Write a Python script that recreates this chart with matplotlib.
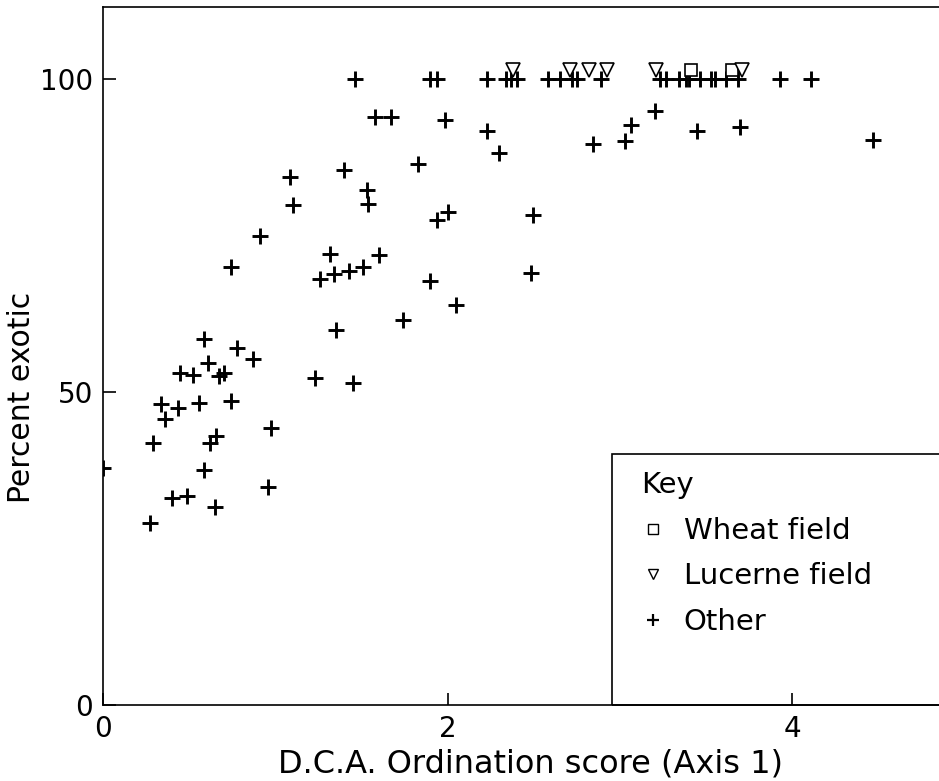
import matplotlib
matplotlib.use("Agg")
import matplotlib.pyplot as plt
from matplotlib.lines import Line2D
from matplotlib.patches import Rectangle

# sites with no crop ("Other")
other_x = [1.46, 1.90, 1.94, 2.23, 2.34, 2.37, 2.40, 2.58, 2.655, 2.72, 2.75, 2.89,
           3.23, 3.27, 3.345, 3.385, 3.40, 3.465, 3.53, 3.55, 3.615, 3.685, 3.93, 4.11,
           1.58, 1.67, 1.985, 2.23, 2.30, 1.085, 1.40, 1.83, 1.535, 1.105, 1.54, 2.005,
           1.94, 0.91, 1.32, 1.60, 0.74, 1.26, 1.34, 1.43, 1.51, 1.895, 2.05, 1.74,
           1.35, 0.585, 0.78, 0.87, 0.61, 0.445, 0.52, 0.675, 0.70, 1.23, 1.45, 0.335,
           0.435, 0.555, 0.74, 0.36, 0.975, 0.29, 0.62, 0.655, 0.0, 0.585, 0.955, 0.40,
           0.49, 0.65, 0.27, 2.845, 3.03, 3.065, 3.205, 3.445, 3.695, 4.47, 2.495, 2.485]
other_y = [100, 100, 100, 100, 100, 100, 100, 100, 100, 100, 100, 100,
           100, 100, 100, 100, 100, 100, 100, 100, 100, 100, 100, 100,
           94.0, 93.9, 93.5, 91.7, 88.1, 84.3, 85.5, 86.4, 82.2, 79.9, 80.1, 78.7,
           77.4, 74.9, 72.0, 71.9, 70.0, 68.1, 68.8, 69.4, 69.9, 67.8, 63.9, 61.5,
           59.9, 58.4, 57.1, 55.3, 54.6, 53.1, 52.7, 52.5, 53.0, 52.3, 51.4, 48.1,
           47.5, 48.2, 48.6, 45.7, 44.3, 41.9, 41.9, 43.0, 37.8, 37.5, 34.9, 33.0,
           33.4, 31.7, 29.0, 89.6, 90.1, 92.7, 94.9, 91.7, 92.3, 90.3, 78.3, 69.0]

wheat_x = [3.41, 3.65]
wheat_y = [101.4, 101.4]

lucerne_x = [2.38, 2.71, 2.82, 2.925, 3.21, 3.71]
lucerne_y = [101.4, 101.4, 101.4, 101.4, 101.4, 101.4]

x_ticks = [0, 2, 4]
y_ticks = [0, 50, 100]

plt.rcParams['font.family'] = ['DejaVu Sans']

fig = plt.figure(figsize=(9.39, 7.81), dpi=100)
ax = fig.add_axes([103 / 939, 76 / 781, 1 - 103 / 939, 698 / 781])

ax.plot(other_x, other_y, linestyle='none', marker='+', color='black',
        markersize=11, markeredgewidth=2.1)
ax.plot(wheat_x, wheat_y, linestyle='none', marker='s', markerfacecolor='white',
        markeredgecolor='black', markersize=8, markeredgewidth=1.2)
ax.plot(lucerne_x, lucerne_y, linestyle='none', marker='v', markerfacecolor='white',
        markeredgecolor='black', markersize=9.5, markeredgewidth=1.2)

ax.set_xlim(0, 836 / 172.3)
ax.set_ylim(0, 698 / 6.26)
ax.set_xticks(x_ticks)
ax.set_yticks(y_ticks)
ax.tick_params(direction='in', length=9, width=1.2, labelsize=20, pad=7)
ax.spines['right'].set_visible(False)
for s in ['left', 'bottom', 'top']:
    ax.spines[s].set_linewidth(1.2)

ax.set_xlabel('D.C.A. Ordination score (Axis 1)', fontsize=23)
ax.xaxis.set_label_coords(0.511, -0.062)
ax.set_ylabel('Percent exotic', fontsize=21.5)
ax.yaxis.set_label_coords(-0.080, 0.44)

# key box, runs off the right edge and sits on the x axis
ax.add_patch(Rectangle((509 / 836, 0), 1.0, 251 / 698, transform=ax.transAxes,
                       fill=False, edgecolor='black', linewidth=1.2, clip_on=False))

handles = [
    Line2D([], [], linestyle='none', marker='s', markerfacecolor='white',
           markeredgecolor='black', markersize=7, markeredgewidth=1.0),
    Line2D([], [], linestyle='none', marker='v', markerfacecolor='white',
           markeredgecolor='black', markersize=7, markeredgewidth=1.0),
    Line2D([], [], linestyle='none', marker='+', color='black',
           markersize=8, markeredgewidth=1.6),
]
leg = ax.legend(handles, ['Wheat field', 'Lucerne field', 'Other'], title='Key',
                loc='upper left', bbox_to_anchor=(0.616, 0.368),
                frameon=False, fontsize=21, title_fontsize=21, alignment='left',
                handlelength=0.8, handletextpad=0.65, labelspacing=0.6,
                borderpad=0.3)

fig.savefig('out.png', dpi=100)
